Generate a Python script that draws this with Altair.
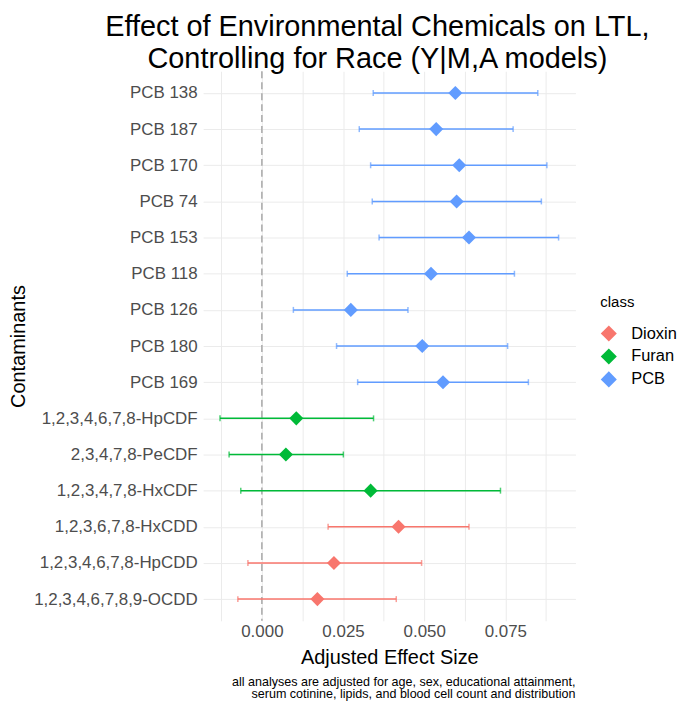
import altair as alt
import pandas as pd

names = ["PCB 138", "PCB 187", "PCB 170", "PCB 74", "PCB 153", "PCB 118", "PCB 126",
         "PCB 180", "PCB 169", "1,2,3,4,6,7,8-HpCDF", "2,3,4,7,8-PeCDF",
         "1,2,3,4,7,8-HxCDF", "1,2,3,6,7,8-HxCDD", "1,2,3,4,6,7,8-HpCDD",
         "1,2,3,4,6,7,8,9-OCDD"]
classes = ["PCB"] * 9 + ["Furan"] * 3 + ["Dioxin"] * 3
estimate = [0.0596, 0.0537, 0.0608, 0.0600, 0.0638, 0.0521, 0.0274, 0.0494, 0.0558,
            0.0106, 0.0074, 0.0335, 0.0421, 0.0222, 0.0171]
lower = [0.0343, 0.0300, 0.0335, 0.0340, 0.0361, 0.0263, 0.0097, 0.0230, 0.0295,
         -0.0129, -0.0101, -0.0065, 0.0204, -0.0043, -0.0074]
upper = [0.0850, 0.0774, 0.0878, 0.0861, 0.0914, 0.0778, 0.0450, 0.0757, 0.0821,
         0.0344, 0.0251, 0.0735, 0.0638, 0.0492, 0.0414]

class_order = ["Dioxin", "Furan", "PCB"]
class_colors = ["#F8766D", "#00BA38", "#619CFF"]
tick_values = [-0.0125, 0.0, 0.0125, 0.025, 0.0375, 0.05, 0.0625, 0.075, 0.0875]
caption = ["all analyses are adjusted for age, sex, educational attainment,",
           "serum cotinine, lipids, and blood cell count and distribution"]

df = pd.DataFrame({"name": names, "class": classes, "est": estimate,
                   "lo": lower, "hi": upper})

W, H = 374, 552
FONT = "Liberation Sans"

xscale = alt.Scale(domain=[-0.0181, 0.0966], nice=False, zero=False)
yscale = alt.Scale(type="point", padding=0.6, domain=names)
cscale = alt.Scale(domain=class_order, range=class_colors)

xaxis = alt.Axis(values=tick_values, format=".3f",
                 labelExpr="abs(round(datum.value*1000) % 25) == 0 ? format(datum.value, '.3f') : ''",
                 title="Adjusted Effect Size", labelFontSize=17, labelColor="#4d4d4d",
                 labelPadding=3, titleFontSize=20, titleFontWeight="normal",
                 titleColor="black", titlePadding=8, grid=True)
yaxis = alt.Axis(title="Contaminants", labelFontSize=17, labelColor="#4d4d4d",
                 labelPadding=6, titleFontSize=20, titleFontWeight="normal",
                 titleColor="black", titlePadding=5, grid=True)

legend = alt.Legend(
    title="class", orient="none", legendX=399, legendY=225,
    titleFontSize=15, titleFontWeight="normal", titleColor="black",
    labelFontSize=16.5, labelColor="black", symbolType="diamond",
    symbolSize=260, symbolStrokeWidth=0, symbolOpacity=1, labelOffset=14,
    rowPadding=6, titlePadding=15)
color = alt.Color("class:N", scale=cscale, legend=legend)

base = alt.Chart(df)

zero = alt.Chart(pd.DataFrame({"z": [0]})).mark_rule(
    color="#a8a8a8", strokeDash=[7, 4], strokeWidth=1.5
).encode(x=alt.X("z:Q", scale=xscale, axis=xaxis))

bars = base.mark_rule(strokeWidth=1.5).encode(
    x=alt.X("lo:Q", scale=xscale, axis=xaxis),
    x2="hi:Q",
    y=alt.Y("name:N", scale=yscale, axis=yaxis, sort=names),
    color=color,
)
cap_lo = base.mark_tick(size=6, thickness=1.5).encode(
    x=alt.X("lo:Q", scale=xscale),
    y=alt.Y("name:N", scale=yscale, sort=names),
    color=color,
)
cap_hi = base.mark_tick(size=6, thickness=1.5).encode(
    x=alt.X("hi:Q", scale=xscale),
    y=alt.Y("name:N", scale=yscale, sort=names),
    color=color,
)
points = base.mark_point(shape="diamond", filled=True, size=200, opacity=1).encode(
    x=alt.X("est:Q", scale=xscale),
    y=alt.Y("name:N", scale=yscale, sort=names),
    color=color,
)

cap_df = pd.DataFrame({"t": [caption]})
cap_text = alt.Chart(cap_df).mark_text(
    align="right", baseline="middle", fontSize=12.6, lineHeight=13, color="black", font=FONT
).encode(text="t", x=alt.value(W), y=alt.value(613))

chart = alt.layer(zero, bars, cap_lo, cap_hi, points, cap_text).properties(
    width=W, height=H,
    padding={"left": 0, "top": 3, "right": 0, "bottom": 0},
    title=alt.TitleParams(
        text=["Effect of Environmental Chemicals on LTL,",
              "Controlling for Race (Y|M,A models)"],
        fontSize=29, fontWeight="normal", color="black", anchor="middle",
        lineHeight=32, dx=-12, offset=-3, font=FONT),
).configure(font=FONT).configure_view(stroke=None).configure_axis(
    domain=False, ticks=False, gridColor="#ebebeb", gridWidth=1
)

chart.save("out.html", embed_options={"renderer": "svg", "actions": False})
